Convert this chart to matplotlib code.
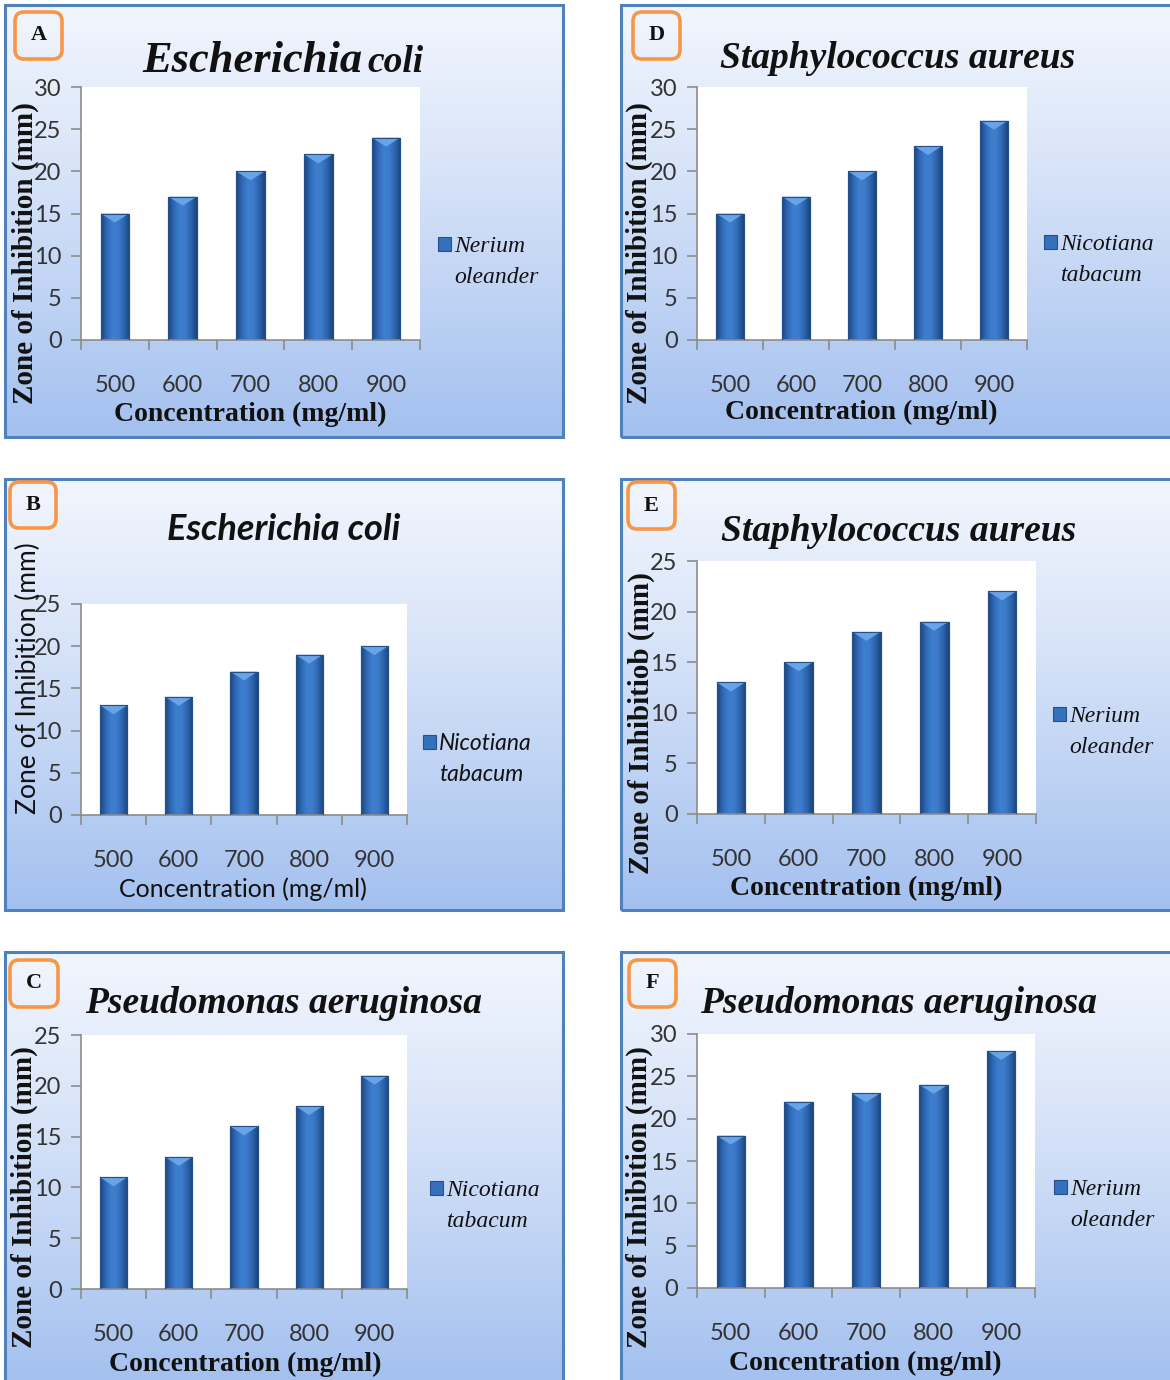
import numpy as np
import matplotlib
matplotlib.use("Agg")
import matplotlib.pyplot as plt
from matplotlib.patches import FancyBboxPatch, Rectangle, Polygon, Patch
from matplotlib.colors import LinearSegmentedColormap, to_rgb

# ---------------- data ----------------
concentrations = ["500", "600", "700", "800", "900"]
ecoli_nerium = [15, 17, 20, 22, 24]        # A
ecoli_nicotiana = [13, 14, 17, 19, 20]     # B
pseudo_nicotiana = [11, 13, 16, 18, 21]    # C
staph_nicotiana = [15, 17, 20, 23, 26]     # D
staph_nerium = [13, 15, 18, 19, 22]        # E
pseudo_nerium = [18, 22, 23, 24, 28]       # F
nerium_label = ["Nerium", "oleander"]
nicotiana_label = ["Nicotiana", "tabacum"]
xlabel_text = "Concentration (mg/ml)"
ylabel_text = "Zone of Inhibition (mm)"
ylabel_text_e = "Zone of Inhibitiob (mm)"

SERIF = "Liberation Serif"
SANS = "Lato"
plt.rcParams["font.family"] = [SANS, "DejaVu Sans"]

W, H = 1170, 1380
fig = plt.figure(figsize=(W / 100, H / 100), dpi=100)
fig.patch.set_facecolor("white")


def fx(x):
    return x / W


def fy(y):
    return 1 - y / H


def rect(x0, y0, x1, y1):
    return [x0 / W, 1 - y1 / H, (x1 - x0) / W, (y1 - y0) / H]


bg_top = np.array(to_rgb("#f1f5fd"))
bg_bot = np.array(to_rgb("#a3c0ef"))
tt = np.linspace(0, 1, 256)[:, None] ** 1.15
grad_img = (bg_top + (bg_bot - bg_top) * tt)[:, None, :]

bar_cmap = LinearSegmentedColormap.from_list(
    "bar", ["#1d467e", "#2f69b5", "#3e7ecf", "#3d7bcb", "#2d65ae", "#1d457c"])
bar_grad = np.linspace(0, 1, 64).reshape(1, -1)

specs = [
    dict(letter="A", values=ecoli_nerium, ymax=30, box=(5, 5, 563, 437), plot=(81, 87, 420, 340),
         lbox=(15, 12, 62, 59), titles=[("Escherichia", 362, "right", 32), ("coli", 367, "left", 27)],
         title_y=72, style="serif", ylab=(25, 253), xlab=(250, 414), legend=(438, 246, 278),
         species=nerium_label, ylabel=ylabel_text),
    dict(letter="D", values=staph_nicotiana, ymax=30, box=(621, 5, 1173, 437), plot=(697, 87, 1027, 340),
         lbox=(633, 12, 680, 59), titles=[("Staphylococcus aureus", 898, "center", 27)],
         title_y=68, style="serif", ylab=(639, 253), xlab=(861, 412), legend=(1044, 243, 277),
         species=nicotiana_label, ylabel=ylabel_text),
    dict(letter="B", values=ecoli_nicotiana, ymax=25, box=(5, 479, 563, 910), plot=(81, 604, 407, 815),
         lbox=(10, 482, 56, 528), titles=[("Escherichia coli", 284, "center", 26)],
         title_y=540, style="sans", ylab=(28, 678), xlab=(243, 889), legend=(423, 741, 777),
         species=nicotiana_label, ylabel=ylabel_text),
    dict(letter="E", values=staph_nerium, ymax=25, box=(621, 479, 1173, 910), plot=(697, 561, 1036, 814),
         lbox=(628, 482, 675, 529), titles=[("Staphylococcus aureus", 899, "center", 27)],
         title_y=541, style="serif", ylab=(641, 723), xlab=(866, 888), legend=(1053, 716, 748),
         species=nerium_label, ylabel=ylabel_text_e),
    dict(letter="C", values=pseudo_nicotiana, ymax=25, box=(5, 952, 563, 1384), plot=(81, 1035, 407, 1289),
         lbox=(10, 960, 58, 1007), titles=[("Pseudomonas aeruginosa", 284, "center", 27)],
         title_y=1013, style="serif", ylab=(24, 1197), xlab=(245, 1364), legend=(430, 1190, 1222),
         species=nicotiana_label, ylabel=ylabel_text),
    dict(letter="F", values=pseudo_nerium, ymax=30, box=(621, 952, 1173, 1384), plot=(697, 1034, 1035, 1288),
         lbox=(629, 960, 676, 1007), titles=[("Pseudomonas aeruginosa", 899, "center", 27)],
         title_y=1013, style="serif", ylab=(639, 1197), xlab=(865, 1363), legend=(1054, 1190, 1220),
         species=nerium_label, ylabel=ylabel_text),
]

for s in specs:
    serif = s["style"] == "serif"
    # panel background
    bg = fig.add_axes(rect(*s["box"]), zorder=0)
    bg.imshow(grad_img, aspect="auto", extent=[0, 1, 0, 1], interpolation="bilinear")
    bg.set_xlim(0, 1)
    bg.set_ylim(0, 1)
    bg.axis("off")
    bg.add_patch(Rectangle((0, 0), 1, 1, transform=bg.transAxes, fill=False,
                           ec="#4f81bd", lw=2.2, clip_on=False))

    # plot area
    ax = fig.add_axes(rect(*s["plot"]), zorder=1)
    ax.set_facecolor("white")
    xpos = np.arange(len(concentrations))
    bars = ax.bar(xpos, s["values"], width=0.42, color="#3470bb",
                  edgecolor="#24508b", linewidth=0.8, zorder=2)
    plot_h_px = s["plot"][3] - s["plot"][1]
    depth = 9.0 / plot_h_px * s["ymax"]
    for p in bars.patches:
        x0, w, h = p.get_x(), p.get_width(), p.get_height()
        im = ax.imshow(bar_grad, cmap=bar_cmap, extent=[x0, x0 + w, 0, h],
                       aspect="auto", zorder=2.5, interpolation="bilinear")
        im.set_clip_path(p)
        ax.add_patch(Polygon([(x0, h), (x0 + w, h), (x0 + w / 2, h - depth)],
                             closed=True, fc="#6ea9ec", ec="none", alpha=0.9, zorder=3))
        ax.add_patch(Rectangle((x0, 0), w, h, fill=False, ec="#24508b", lw=0.8, zorder=3.2))
    ax.set_xlim(-0.5, len(concentrations) - 0.5)
    ax.set_ylim(0, s["ymax"])
    ax.set_yticks(np.arange(0, s["ymax"] + 1, 5))
    ax.set_xticks(np.arange(-0.5, len(concentrations), 1))
    ax.set_xticklabels([])
    ax.set_xticks(xpos, minor=True)
    ax.set_xticklabels(concentrations, minor=True)
    ax.tick_params(axis="x", which="major", length=7, width=1.2, color="#8c8c8c", direction="out")
    ax.tick_params(axis="x", which="minor", length=0, pad=25, labelsize=17, labelcolor="#333333")
    ax.tick_params(axis="y", length=7, width=1.2, color="#8c8c8c", pad=7,
                   labelsize=17, labelcolor="#333333")
    for sp in ("top", "right"):
        ax.spines[sp].set_visible(False)
    for sp in ("left", "bottom"):
        ax.spines[sp].set_color("#8c8c8c")
        ax.spines[sp].set_linewidth(1.2)

    # axis labels
    if serif:
        ax.set_ylabel(s["ylabel"], fontfamily=SERIF, fontweight="bold", fontsize=21, color="#111111")
        ax.set_xlabel(xlabel_text, fontfamily=SERIF, fontweight="bold", fontsize=20, color="#111111")
    else:
        ax.set_ylabel(s["ylabel"], fontfamily=SANS, fontsize=19, color="#111111")
        ax.set_xlabel(xlabel_text, fontfamily=SANS, fontsize=18, color="#111111")
    ax.yaxis.label.set_va("center")
    ax.xaxis.label.set_va("center")
    ax.yaxis.set_label_coords(fx(s["ylab"][0]), fy(s["ylab"][1]), transform=fig.transFigure)
    ax.xaxis.set_label_coords(fx(s["xlab"][0]), fy(s["xlab"][1]), transform=fig.transFigure)

    # legend
    lx, l1, l2 = s["legend"]
    if serif:
        prop = dict(family=SERIF, style="italic", size=17)
    else:
        prop = dict(family=SANS, style="italic", size=16.5)
    ax.legend([bars, Patch(facecolor="none", edgecolor="none")], s["species"],
              loc="center left", bbox_to_anchor=(fx(lx), fy((l1 + l2) / 2)),
              bbox_transform=fig.transFigure, frameon=False, borderpad=0, borderaxespad=0,
              handlelength=0.55, handleheight=0.55, handletextpad=0.15, labelspacing=0.42,
              prop=prop, labelcolor="#111111")

    # title
    for text, tx, ha, size in s["titles"]:
        fam = SERIF if serif else SANS
        fig.text(fx(tx), fy(s["title_y"]), text, ha=ha, va="baseline", fontsize=size,
                 fontfamily=fam, fontweight="bold", fontstyle="italic", color="#111111")

    # panel letter box
    bx0, by0, bx1, by1 = s["lbox"]
    fb = FancyBboxPatch((fx(bx0), fy(by1)), (bx1 - bx0) / W, (by1 - by0) / H,
                        boxstyle=f"round,pad=0,rounding_size={9 / W}", mutation_aspect=W / H,
                        transform=fig.transFigure, fc="none", ec="#f79646", lw=2.6, zorder=5)
    fig.add_artist(fb)
    fig.text(fx((bx0 + bx1) / 2), fy((by0 + by1) / 2), s["letter"], ha="center", va="center",
             fontsize=16, fontfamily=SERIF, fontweight="bold", color="#111111", zorder=6)

fig.savefig("out.png", dpi=100, facecolor="white")
